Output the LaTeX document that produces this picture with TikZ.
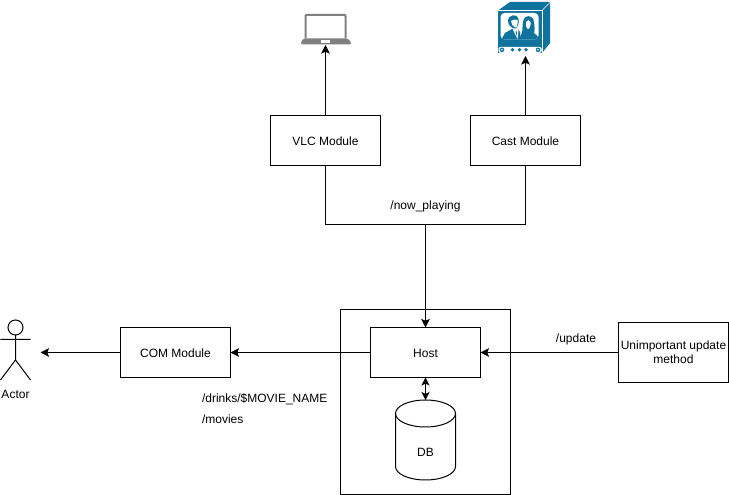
\documentclass[tikz,border=0pt]{standalone}
\usepackage{fontspec}
\setmainfont{Liberation Sans}
\usetikzlibrary{arrows.meta}
\definecolor{tvblue}{HTML}{10739E}
\definecolor{lapgray}{HTML}{808080}
\tikzset{
  every node/.style={font=\fontsize{9}{10.5}\selectfont,inner sep=0pt,outer sep=0pt},
  box/.style={draw,line width=.75pt,minimum width=82.5pt,minimum height=37.5pt,align=center,anchor=north west},
  onebox/.style={box,text height=8pt,text depth=0pt},
  conn/.style={line width=.75pt,-{Stealth[length=6.5pt,width=6.5pt,inset=1.5pt]}},
  dbl/.style={line width=.75pt,{Stealth[length=6pt,width=6pt,inset=1.5pt]}-{Stealth[length=6pt,width=6pt,inset=1.5pt]}},
  lbl/.style={anchor=west},
}
\begin{document}
\begin{tikzpicture}[x=.75pt,y=-.75pt]
\useasboundingbox (0,0) rectangle (729,495);
% outer container
\draw[line width=.75pt] (340.5,309.5) rectangle (510.5,494.5);
% boxes
\node[onebox] (vlc) at (270.5,115.5) {VLC Module};
\node[onebox] (cast) at (470.5,115.5) {Cast Module};
\node[onebox] (host) at (370.5,327.5) {Host};
\node[onebox] (com) at (120.5,327.5) {COM Module};
\node[box,minimum height=45pt] (upd) at (618.5,322.5) {Unimportant update\\method};
% laptop
\coordinate (lap) at (325.5,45);
\draw[lapgray,line width=1.5pt,rounded corners=.8pt] (305.5,38.5) -- (305.5,14.8) -- (345.5,14.8) -- (345.5,38.5);
\fill[lapgray,rounded corners=1pt] (303.5,38.5) -- (347.5,38.5) -- (351,42) -- (351,44.5) -- (301,44.5) -- (301,42) -- cycle;
\fill[white] (320.5,40.3) rectangle (330,42.6);
% TV
\coordinate (tv) at (525.5,56);
\fill[tvblue] (498,10.5) -- (510,2) -- (550,2) -- (550,43) -- (542,53) -- (498,53) -- cycle;
\draw[white,line width=.5pt] (498,10.5) -- (542,10.5) -- (550,2.5);
\draw[white,line width=.5pt] (542,10.5) -- (542,53);
\fill[white,rounded corners=3pt] (500.5,13) rectangle (538.5,39.5);
\begin{scope}
  \clip[rounded corners=3pt] (500.5,13) rectangle (538.5,39.5);
  % woman
  \fill[tvblue] (523,22) .. controls (524,14) and (533,14) .. (534,22) .. controls (534.5,26) and (535,30) .. (534,33) .. controls (537,34) and (538,37) .. (539,40) -- (519,40) -- (521,35) .. controls (523,33) and (522,27) .. (523,22) -- cycle;
  \fill[white] (526,22) .. controls (527,19.5) and (530,19.5) .. (530.5,22) .. controls (531,26) and (529.5,29) .. (528,29) .. controls (526.5,28.5) and (525.5,25) .. (526,22) -- cycle;
  % man
  \fill[tvblue] (501,40) -- (505,33) -- (512,29) -- (518,29) -- (520,32) -- (521,40) -- cycle;
  \fill[white] (513,28) -- (518,28) -- (518.5,31) -- (517.5,39) -- (513.5,31) -- cycle;
  \fill[tvblue] (515.5,31.5) -- (517,31.5) -- (517,36.5) -- cycle;
  \fill[tvblue] (508,21) .. controls (508,14) and (518,13.5) .. (518.5,19) .. controls (519,24) and (518,27) .. (516,28.5) .. controls (513,29) and (508,26) .. (508,21) -- cycle;
  \fill[white] (511,21) .. controls (512.5,19.5) and (516,19) .. (517.5,20) .. controls (518,24) and (517,27.5) .. (515.5,27.5) .. controls (513,27) and (511,24) .. (511,21) -- cycle;
\end{scope}
\fill[white,rounded corners=1pt] (498.5,47) rectangle (541.5,52.8);
\fill[tvblue] (502,49.8) circle (1.7pt) (538,49.8) circle (1.7pt);
\fill[white] (502,49.8) circle (.7pt) (538,49.8) circle (.7pt);
\fill[tvblue] (512.5,49.8) circle (1.4pt) (519.5,49.8) circle (1.4pt) (526,49.8) circle (1.4pt);
% actor
\node[draw,circle,line width=.75pt,minimum size=11.25pt] (head) at (15.5,327.5) {};
\coordinate (hip) at (15.5,360);
\coordinate (armL) at (0.5,339.5);
\coordinate (armR) at (30.5,339.5);
\coordinate (legL) at (0.5,380);
\coordinate (legR) at (30.5,380);
\draw[line width=.75pt] (head.south) -- (hip) (armL) -- (armR) (legL) -- (hip) -- (legR);
\node (actor) at (15.5,394.5) {Actor};
\coordinate (actorEnd) at (40.5,352.5);
% DB
\node[minimum width=45pt,minimum height=60pt] (db) at (425.5,440) {};
\draw[line width=.75pt,fill=white] (395.5,413.5)
  .. controls (395.5,406) and (409,400) .. (425.5,400)
  .. controls (442,400) and (455.5,406) .. (455.5,413.5)
  -- (455.5,466.5)
  .. controls (455.5,474) and (442,480) .. (425.5,480)
  .. controls (409,480) and (395.5,474) .. (395.5,466.5) -- cycle;
\draw[line width=.75pt] (395.5,413.5)
  .. controls (395.5,421) and (409,427) .. (425.5,427)
  .. controls (442,427) and (455.5,421) .. (455.5,413.5);
\node at (425.5,452.5) {DB};
% connectors
\coordinate (junc) at (425.5,224.5);
\draw[conn] (vlc.north) -- (lap);
\draw[conn] (cast.north) -- (tv);
\draw[line width=.75pt] (vlc.south) |- (junc);
\draw[line width=.75pt] (cast.south) |- (junc);
\draw[conn] (junc) -- (host.north);
\draw[conn] (host.west) -- (com.east);
\draw[conn] (com.west) -- (actorEnd);
\draw[conn] (upd.west) -- (host.east);
\draw[dbl] (host.south) -- (db.north);
% labels
\node[anchor=center] at (425.5,206.5) {/now\_playing};
\node[anchor=center] at (576,339) {/update};
\node[lbl] at (202,399.5) {/drinks/\$MOVIE\_NAME};
\node[lbl] at (202,419.5) {/movies};
\end{tikzpicture}
\end{document}
